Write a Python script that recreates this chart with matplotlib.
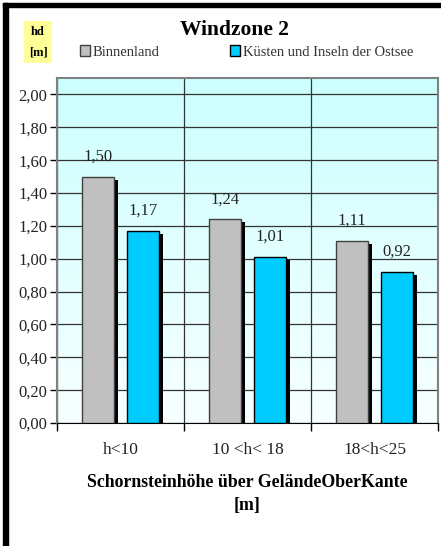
import numpy as np
import matplotlib
matplotlib.use('Agg')
import matplotlib.pyplot as plt
from matplotlib.patches import Rectangle, Patch
from matplotlib.transforms import ScaledTranslation

kategorien = ['h<10', '10 <h< 18', '18<h<25']
binnenland = [1.50, 1.24, 1.11]
kueste = [1.17, 1.01, 0.92]
serien = ['Binnenland', 'Küsten und Inseln der Ostsee']
yticks = [0.0, 0.2, 0.4, 0.6, 0.8, 1.0, 1.2, 1.4, 1.6, 1.8, 2.0]

plt.rcParams['font.family'] = ['Liberation Serif', 'DejaVu Serif']

W, H = 441, 546
fig = plt.figure(figsize=(W / 100, H / 100), dpi=100)

# Rahmen links und oben
fig.patches.append(Rectangle((3 / W, 0), 5 / W, 1 - 3 / H, transform=fig.transFigure,
                             color='black', zorder=10))
fig.patches.append(Rectangle((3 / W, 1 - 7 / H), 1 - 3 / W, 4 / H, transform=fig.transFigure,
                             color='black', zorder=10))

ax = fig.add_axes([57 / W, (H - 423) / H, 381 / W, 345 / H])

# Hintergrund mit Verlauf
grad = np.linspace(0, 1, 256).reshape(-1, 1)
top = np.array([0.80, 1.0, 1.0])
bot = np.array([0.97, 1.0, 1.0])
img = top + (bot - top) * grad[..., None]
ax.imshow(img, extent=[0, 1, 0, 1], transform=ax.transAxes, aspect='auto', zorder=0)

x = np.arange(len(kategorien))
breite = 0.252
off = 0.177
schatten = ax.transData + ScaledTranslation(4 / 100, -3 / 100, fig.dpi_scale_trans)

ax.bar(x - off, binnenland, breite, color='black', transform=schatten, zorder=2)
ax.bar(x + off, kueste, breite, color='black', transform=schatten, zorder=2)
b1 = ax.bar(x - off, binnenland, breite, color='#C0C0C0', edgecolor='#404040', linewidth=1, zorder=3)
b2 = ax.bar(x + off, kueste, breite, color='#00CCFF', edgecolor='black', linewidth=1, zorder=3)

for bars, vals in [(b1, binnenland), (b2, kueste)]:
    for r, v in zip(bars, vals):
        ax.annotate(f'{v:.2f}'.replace('.', ','), (r.get_x() + r.get_width() / 2, v),
                    xytext=(0, 14.5), textcoords='offset points', ha='center', va='center',
                    fontsize=12, color='#222222', zorder=5)

ax.set_xlim(-0.5, 2.5)
ax.set_ylim(0, 2.1)
ax.set_yticks(yticks)
ax.set_yticklabels([f'{t:.2f}'.replace('.', ',') for t in yticks], fontsize=12, color='#222222')
ax.set_xticks(x)
ax.set_xticklabels(kategorien, fontsize=12.5, color='#222222')
ax.tick_params(axis='x', length=0, pad=14)
ax.set_xticks([-0.5, 0.5, 1.5, 2.5], minor=True)
ax.tick_params(axis='x', which='minor', length=6, direction='out', width=1)
ax.tick_params(axis='y', length=5, direction='out', width=1, pad=2)

ax.grid(True, axis='y', color='#333333', linewidth=0.9, zorder=1)
ax.grid(True, axis='x', which='minor', color='#333333', linewidth=0.9, zorder=1)
ax.set_axisbelow(True)
for s in ['top', 'right', 'left']:
    ax.spines[s].set_color('#808080')
    ax.spines[s].set_linewidth(1.5)
ax.spines['bottom'].set_color('black')

ax.set_xlabel('Schornsteinhöhe über GeländeOberKante\n[m]', fontsize=12.8, fontweight='bold',
              labelpad=11, linespacing=1.45)

fig.text(234 / W, 1 - 30 / H, 'Windzone 2', ha='center', va='center', fontsize=15.5,
         fontweight='bold')

fig.text(38 / W, 1 - 42 / H, 'hd\n[m]', ha='center', va='center', fontsize=9,
         fontweight='bold', linespacing=1.9,
         bbox=dict(boxstyle='square,pad=0.4', facecolor='#FFFF99', edgecolor='none'))

handles = [Patch(facecolor='#C0C0C0', edgecolor='#404040'),
           Patch(facecolor='#00CCFF', edgecolor='black')]
fig.legend(handles, serien, loc='center left', bbox_to_anchor=(74 / W, 1 - 52 / H), ncol=2,
           frameon=False, fontsize=10.5, handlelength=0.7, handleheight=0.7,
           handletextpad=0.2, columnspacing=4.8, borderaxespad=0, labelcolor='#333333')

plt.savefig('out.png', dpi=100)
